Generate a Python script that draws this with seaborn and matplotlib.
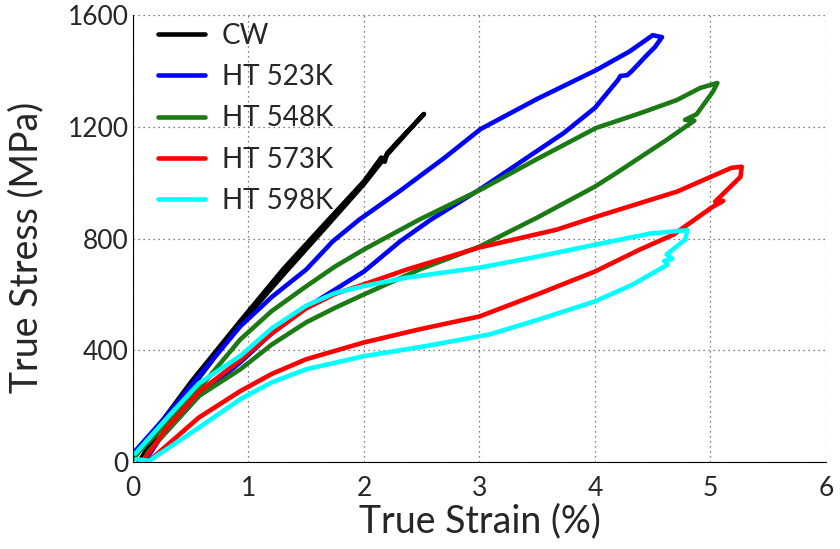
import numpy as np
import pandas as pd
import seaborn as sns
import matplotlib.pyplot as plt
from matplotlib.ticker import MultipleLocator

# Loading / unloading loops: true strain (%) and true stress (MPa)
cw_strain = [0.0, 0.25, 0.5, 0.93, 1.3, 1.71, 2.0, 2.15, 2.18, 2.2, 2.3, 2.52,
             2.45, 2.2, 2.0, 1.7, 1.3, 0.9, 0.5, 0.25, 0.05]
cw_stress = [10, 145, 285, 505, 690, 875, 1005, 1090, 1075, 1105, 1150, 1246,
             1215, 1100, 995, 855, 670, 480, 262, 128, 0]

ht523_strain = [0.0, 0.3, 0.57, 0.93, 1.2, 1.5, 1.73, 1.96, 2.31, 2.7, 3.01, 3.5, 4.01, 4.3,
                4.5, 4.58, 4.52, 4.45, 4.32, 4.28, 4.22, 4.2, 4.0, 3.73, 3.0, 2.58, 2.31, 2.0,
                1.5, 1.2, 0.93, 0.57, 0.23, 0.1]
ht523_stress = [30, 170, 307, 486, 590, 689, 790, 868, 970, 1090, 1192, 1300, 1403, 1470,
                1528, 1521, 1486, 1457, 1400, 1385, 1382, 1368, 1268, 1178, 975, 868, 789, 682,
                553, 460, 357, 236, 82, 0]

ht548_strain = [0.0, 0.3, 0.57, 0.93, 1.2, 1.5, 1.75, 2.0, 2.48, 3.01, 3.5, 4.01, 4.4, 4.71,
                4.91, 5.06, 5.02, 4.88, 4.78, 4.86, 4.62, 4.19, 4.0, 3.5, 3.0, 2.48, 2.0, 1.75,
                1.5, 1.2, 0.93, 0.57, 0.14, 0.08]
ht548_stress = [15, 140, 261, 439, 540, 629, 700, 761, 868, 975, 1085, 1196, 1250, 1296,
                1339, 1357, 1325, 1245, 1225, 1222, 1153, 1036, 986, 875, 771, 689, 600, 552,
                500, 420, 332, 236, 40, 0]

ht573_strain = [0.08, 0.3, 0.57, 0.93, 1.2, 1.5, 1.75, 2.0, 2.37, 3.0, 3.67, 4.01, 4.71,
                5.18, 5.27, 5.26, 5.04, 5.11, 5.01, 4.68, 4.39, 4.0, 3.5, 3.0, 2.48, 2.0,
                1.5, 1.2, 0.93, 0.57, 0.14]
ht573_stress = [0, 125, 250, 365, 460, 550, 602, 636, 689, 768, 832, 878, 968,
                1053, 1057, 1021, 932, 935, 911, 814, 761, 682, 600, 521, 475, 428,
                368, 315, 254, 159, 4]

ht598_strain = [0.02, 0.3, 0.57, 0.93, 1.2, 1.5, 1.75, 2.0, 2.37, 3.0, 3.5, 4.0, 4.48, 4.80,
                4.78, 4.62, 4.67, 4.60, 4.63, 4.33, 4.0, 3.52, 3.09, 2.48, 2.0, 1.5, 1.2,
                0.93, 0.57, 0.14, 0.03]
ht598_stress = [30, 160, 281, 380, 478, 560, 605, 630, 660, 696, 735, 778, 818, 830,
                796, 743, 728, 720, 707, 636, 575, 511, 457, 411, 379, 332, 285,
                225, 123, 4, 10]

labels = ["CW", "HT 523K", "HT 548K", "HT 573K", "HT 598K"]
colors = ["#000000", "#0000ff", "#1c7a14", "#ff0000", "#00ffff"]

frames = []
for name, xs, ys in zip(labels,
                        [cw_strain, ht523_strain, ht548_strain, ht573_strain, ht598_strain],
                        [cw_stress, ht523_stress, ht548_stress, ht573_stress, ht598_stress]):
    frames.append(pd.DataFrame({"strain": xs, "stress": ys, "sample": name,
                                "step": np.arange(len(xs))}))
df = pd.concat(frames, ignore_index=True)

sns.set_theme(style="white")
plt.rcParams["font.family"] = ["Lato", "DejaVu Sans"]

fig = plt.figure(figsize=(8.4, 5.49), dpi=100)
ax = fig.add_axes([0.1583, 0.1585, 0.825, 0.814])

sns.lineplot(data=df, x="strain", y="stress", hue="sample", hue_order=labels,
             palette=colors, sort=False, estimator=None, linewidth=3.3, ax=ax,
             solid_capstyle="round", solid_joinstyle="round")

ax.set_xlim(0, 6)
ax.set_ylim(0, 1600)
ax.set_xticks(range(0, 7))
ax.set_yticks([0, 400, 800, 1200, 1600])
ax.xaxis.set_minor_locator(MultipleLocator(0.025))
ax.yaxis.set_minor_locator(MultipleLocator(10))
ax.tick_params(which="major", direction="in", length=5, width=0.8, color="black",
               labelsize=19, pad=3)
ax.tick_params(which="minor", direction="in", length=1.5, width=0.5, color="#555555")
ax.tick_params(axis="x", which="major", pad=10)

ax.grid(True, which="major", linestyle=(0, (1, 3)), color="#555555", linewidth=0.9)
for side in ["top", "right"]:
    ax.spines[side].set_visible(False)
for side in ["left", "bottom"]:
    ax.spines[side].set_color("black")
    ax.spines[side].set_linewidth(0.8)

ax.set_xlabel("True Strain (%)", fontsize=27, labelpad=2)
ax.set_ylabel("True Stress (MPa)", fontsize=27)
ax.yaxis.set_label_coords(-0.128, 0.48)

handles, lbls = ax.get_legend_handles_labels()
for h in handles:
    h.set_linewidth(3.3)
ax.legend(handles, lbls, loc="upper left", bbox_to_anchor=(0.012, 1.02), frameon=False,
          fontsize=20, handlelength=1.7, handletextpad=0.6, labelspacing=0.55,
          borderaxespad=0.2)

fig.savefig("out.png", dpi=100)
